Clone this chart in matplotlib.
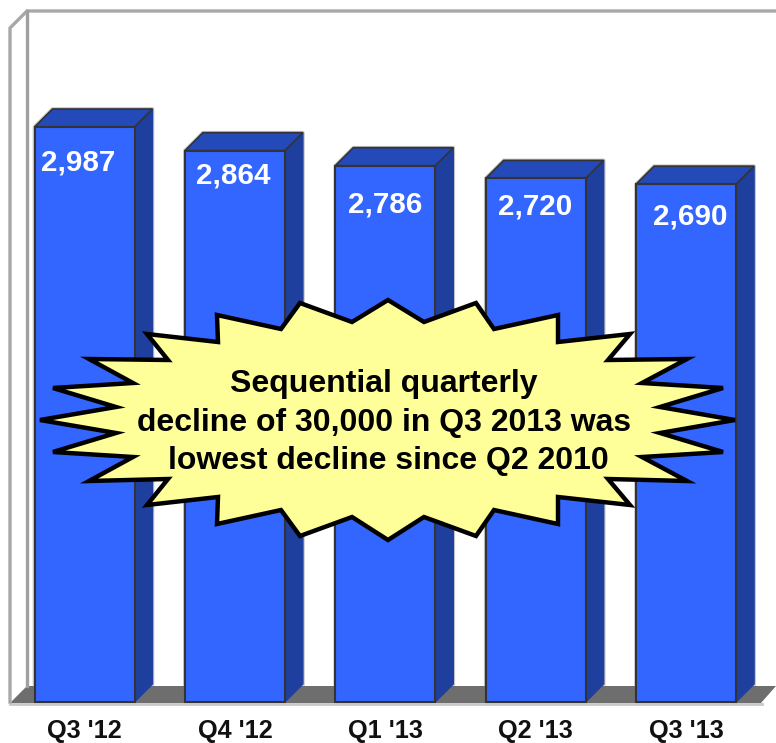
import matplotlib
matplotlib.use("Agg")
import matplotlib.pyplot as plt
from matplotlib.patches import Polygon
import numpy as np

plt.rcParams['font.family'] = ['Liberation Sans', 'DejaVu Sans']

quarters = ["Q3 '12", "Q4 '12", "Q1 '13", "Q2 '13", "Q3 '13"]
lines_in_service = [2987, 2864, 2786, 2720, 2690]
value_labels = ["2,987", "2,864", "2,786", "2,720", "2,690"]
callout_lines = ["Sequential quarterly",
                 "decline of 30,000 in Q3 2013 was",
                 "lowest decline since Q2 2010"]

W, H = 776, 743
BASE_PX = 702        # pixel row of the bars' bottom edge
PX_PER_UNIT = 0.1925
BAR_PX = 100
STEP_PX = 150.4
FIRST_PX = 84.5
DEPTH_PX = 18

FRONT = '#3366ff'
SIDE = '#1f3f9f'
TOP = '#2449b8'
EDGE = '#333333'

# nudges of the value labels from the bar centre / bar top, in px
label_dx = [-6, -2, 0, -1, 4]
label_dy = [35, 25, 39, 28, 32]

# callout outline, px from top left
burst = [(388, 300), (424, 322), (476, 303), (494, 329), (558, 315), (558, 342),
         (630, 334), (608, 360), (687, 359), (642, 383), (723, 388), (660, 407),
         (735, 420), (660, 433), (723, 452), (642, 457), (687, 481), (608, 479),
         (630, 505), (558, 497), (558, 524), (494, 510), (476, 536), (424, 517),
         (388, 540), (352, 517), (300, 536), (281, 510), (217, 524), (218, 497),
         (147, 505), (168, 479), (89, 481), (133, 457), (53, 452), (116, 433),
         (40, 420), (116, 407), (53, 388), (133, 383), (89, 359), (168, 360),
         (147, 334), (218, 342), (217, 315), (281, 329), (300, 303), (352, 322)]

fig = plt.figure(figsize=(W / 100, H / 100), dpi=100)

# back wall and floor in pixel coordinates
bg = fig.add_axes([0, 0, 1, 1], zorder=0)
bg.set_xlim(0, W)
bg.set_ylim(H, 0)
bg.axis('off')
bg.add_patch(Polygon([(10, 703), (27, 686), (776, 686), (761, 703)], closed=True,
                     fc='#6e6e6e', ec='none'))
bg.plot([10, 762], [704, 704], color='#c8c8c8', lw=2)
bg.plot([10, 10, 27, 776], [702, 28, 11, 11], color='#a8a8a8', lw=2.4, solid_joinstyle='miter')
bg.plot([27, 27], [11, 686], color='#a0a0a0', lw=2.4)

# bars
ax = fig.add_axes([0, (H - BASE_PX) / H, 1, BASE_PX / H], zorder=1)
ax.patch.set_visible(False)
ax.set_xlim(-FIRST_PX / STEP_PX, (W - FIRST_PX) / STEP_PX)
ax.set_ylim(0, BASE_PX / PX_PER_UNIT)
x = np.arange(len(quarters))
bar_w = BAR_PX / STEP_PX
dx = DEPTH_PX / STEP_PX
dy = DEPTH_PX / PX_PER_UNIT

for i, v in enumerate(lines_in_service):
    l, r = x[i] - bar_w / 2, x[i] + bar_w / 2
    # soft grey rim behind the box, above the floor only
    ax.plot([l, l, l + dx, r + dx, r + dx], [dy, v, v + dy, v + dy, dy],
            color='#c4c4c4', lw=2.6, zorder=0.5)
    ax.add_patch(Polygon([(r, 0), (r + dx, dy), (r + dx, v + dy), (r, v)], closed=True,
                         fc=SIDE, ec=SIDE, lw=1, joinstyle='miter', clip_on=False, zorder=1))
    ax.add_patch(Polygon([(l, v), (l + dx, v + dy), (r + dx, v + dy), (r, v)], closed=True,
                         fc=TOP, ec=EDGE, lw=1.2, joinstyle='miter', zorder=1))
ax.bar(x, lines_in_service, width=bar_w, color=FRONT, edgecolor=EDGE, linewidth=1.5,
       clip_on=False, zorder=2)

for i, v in enumerate(lines_in_service):
    ax.annotate(value_labels[i], (x[i], v), xytext=(label_dx[i] * 0.72, -label_dy[i] * 0.72),
                textcoords='offset points', ha='center', va='center',
                color='white', fontsize=21.3, fontweight='bold', zorder=3)

ax.set_xticks(x)
ax.set_xticklabels(quarters, fontsize=18.2, fontweight='bold', color='#111111')
ax.tick_params(axis='x', length=0, pad=12)
ax.set_yticks([])
for s in ax.spines.values():
    s.set_visible(False)

# callout on top
fg = fig.add_axes([0, 0, 1, 1], zorder=2)
fg.patch.set_visible(False)
fg.set_xlim(0, W)
fg.set_ylim(H, 0)
fg.axis('off')
fg.add_patch(Polygon(burst, closed=True, fc='#ffff99', ec='black', lw=3.2, joinstyle='miter'))
for txt, cx, row in zip(callout_lines, [384, 384, 388], [384, 423, 461]):
    fg.text(cx, row, txt, ha='center', va='center', fontsize=23, fontweight='bold',
            color='black')

fig.savefig('out.png', dpi=100)
